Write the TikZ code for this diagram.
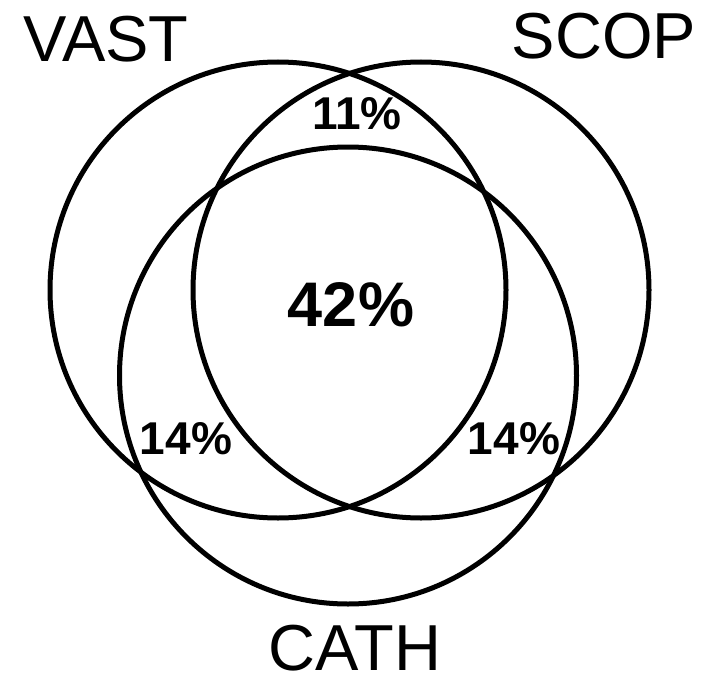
\documentclass[tikz,border=0pt]{standalone}
\usepackage{fontspec}
\setmainfont{Liberation Sans}
\usetikzlibrary{positioning}

\begin{document}
\begin{tikzpicture}[x=1pt,y=-1pt,line cap=round,line join=round]
\path[fill=white] (0,0) rectangle (706,682);
\tikzset{ring/.style={draw=black,line width=5pt},setlabel/.style={font=\fontsize{65}{70}\selectfont,inner sep=0pt},share/.style={font=\bfseries\fontsize{46}{50}\selectfont,inner sep=0pt}}
% the three sets
\coordinate (vastc) at (278,290); \coordinate (scopc) at (421,290); \coordinate (cathc) at (348,375.5);
\draw[ring] (vastc) circle (228);
\draw[ring] (scopc) circle (228);
\draw[ring] (cathc) circle (228.5);
\node[setlabel] (vast) at (106,39) {VAST};
\node[setlabel] (scop) at (604,36) {SCOP};
\node[setlabel] (cath) at (355,648) {CATH};
% overlap shares
\node[share,font=\bfseries\fontsize{63}{68}\selectfont] (all) at (351,305) {42\%};
\node[share] (vs) at (357,114) {11\%};
\node[share] (vc) at (186,439) {14\%};
\node[share] (sc) at (514,439) {14\%};
\end{tikzpicture}
\end{document}
